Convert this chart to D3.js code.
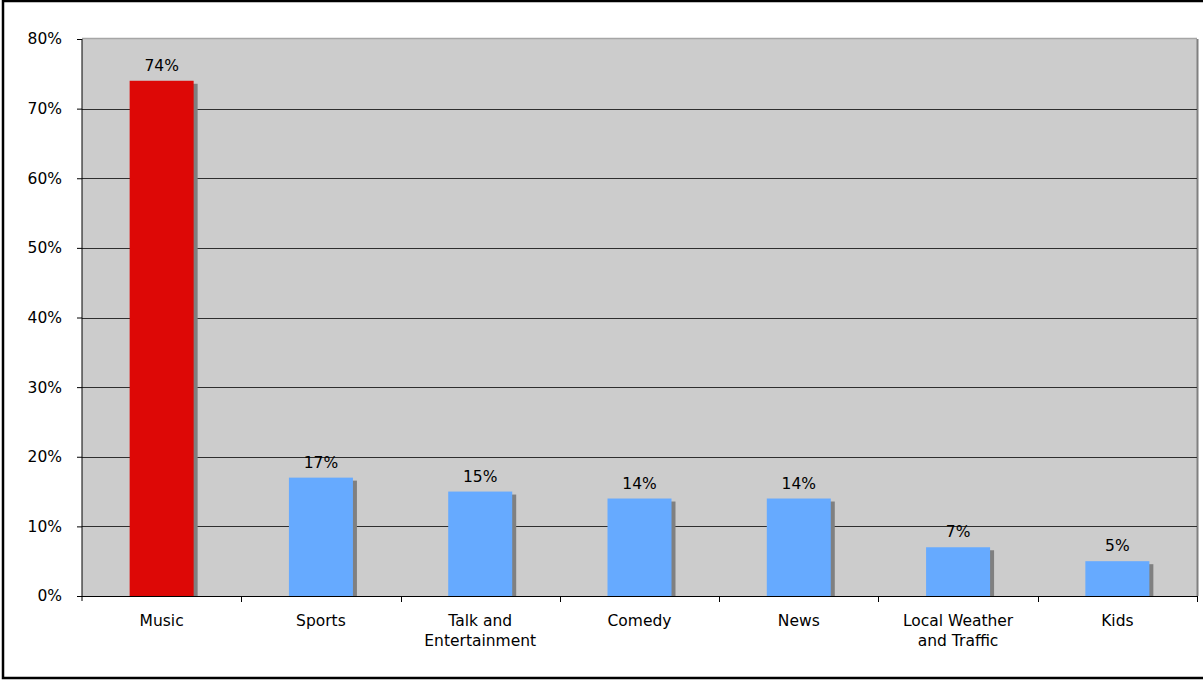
<!DOCTYPE html>
<html>
<head>
<meta charset="utf-8">
<script src="https://cdn.jsdelivr.net/npm/d3@7"></script>
<style>
  html, body { margin: 0; padding: 0; background: #fff; }
  svg { display: block; }
  text { font-family: "DejaVu Sans", Verdana, sans-serif; fill: #000; }
</style>
</head>
<body>
<svg id="chart" width="1203" height="680"></svg>
<script>
// Share of listeners by programming type
const categories = ["Music", "Sports", "Talk and\nEntertainment", "Comedy", "News", "Local Weather\nand Traffic", "Kids"];
const values = [0.74, 0.17, 0.15, 0.14, 0.14, 0.07, 0.05];
const barColors = ["#dd0806", "#66aaff", "#66aaff", "#66aaff", "#66aaff", "#66aaff", "#66aaff"];
const yTicks = [0, 0.1, 0.2, 0.3, 0.4, 0.5, 0.6, 0.7, 0.8];

const svg = d3.select("#chart");
const W = 1203, H = 680;
const plot = { left: 82, right: 1197, top: 39, bottom: 596 };
const fontSize = "15.5px";

// Outer chart frame
svg.append("rect")
  .attr("x", 3).attr("y", 1)
  .attr("width", W + 10).attr("height", 677)
  .attr("fill", "#fff").attr("stroke", "#000").attr("stroke-width", 2.5);

const x = d3.scaleBand()
  .domain(d3.range(categories.length))
  .range([plot.left, plot.right])
  .paddingInner(0).paddingOuter(0);

const y = d3.scaleLinear().domain([0, 0.8]).range([plot.bottom, plot.top]);

// Plot area background
svg.append("rect")
  .attr("x", plot.left).attr("y", plot.top)
  .attr("width", plot.right - plot.left).attr("height", plot.bottom - plot.top)
  .attr("fill", "#cccccc");

// Plot area border: light top edge, darker right edge
svg.append("line")
  .attr("x1", plot.left).attr("x2", plot.right)
  .attr("y1", plot.top - 0.5).attr("y2", plot.top - 0.5)
  .attr("stroke", "#a6a6a6").attr("stroke-width", 1.5);
svg.append("line")
  .attr("x1", plot.right + 0.5).attr("x2", plot.right + 0.5)
  .attr("y1", plot.top).attr("y2", plot.bottom)
  .attr("stroke", "#808080").attr("stroke-width", 2);

// Horizontal gridlines
svg.append("g")
  .selectAll("line")
  .data(yTicks.filter(t => t > 0 && t < 0.8))
  .join("line")
  .attr("x1", plot.left).attr("x2", plot.right)
  .attr("y1", d => Math.round(y(d)) + 0.5).attr("y2", d => Math.round(y(d)) + 0.5)
  .attr("stroke", "#2e2e2e").attr("stroke-width", 1);

const barW = 64;
const bx = i => x(i) + (x.bandwidth() - barW) / 2;

// Bar shadows
svg.append("g")
  .selectAll("rect")
  .data(values)
  .join("rect")
  .attr("x", (d, i) => bx(i) + 4)
  .attr("y", d => y(d) + 3)
  .attr("width", barW)
  .attr("height", d => plot.bottom - y(d) - 3)
  .attr("fill", "#808080");

// Bars
svg.append("g")
  .selectAll("rect")
  .data(values)
  .join("rect")
  .attr("x", (d, i) => bx(i))
  .attr("y", d => y(d))
  .attr("width", barW)
  .attr("height", d => plot.bottom - y(d))
  .attr("fill", (d, i) => barColors[i]);

// Value labels
svg.append("g")
  .selectAll("text")
  .data(values)
  .join("text")
  .attr("x", (d, i) => bx(i) + barW / 2)
  .attr("y", d => y(d) - 10)
  .attr("text-anchor", "middle")
  .style("font-size", fontSize)
  .text(d => d3.format(".0%")(d));

// Y axis
const yAxis = svg.append("g")
  .attr("transform", `translate(${plot.left},0)`)
  .call(d3.axisLeft(y).tickValues(yTicks).tickFormat(d3.format(".0%")).tickSize(5).tickPadding(15));
yAxis.select(".domain").attr("stroke", "#000").attr("d", `M0,${plot.top}V${plot.bottom + 5}`);
yAxis.selectAll(".tick line").attr("stroke", "#000");
yAxis.selectAll(".tick text")
  .style("font-size", fontSize)
  .style("font-family", "'DejaVu Sans', Verdana, sans-serif")
  .attr("fill", "#000");

// X axis: tick marks at category boundaries
const xAxisG = svg.append("g");
xAxisG.append("line")
  .attr("x1", plot.left - 5).attr("x2", plot.right)
  .attr("y1", plot.bottom + 0.5).attr("y2", plot.bottom + 0.5)
  .attr("stroke", "#000");
xAxisG.selectAll("line.tk")
  .data(d3.range(1, categories.length + 1))
  .join("line")
  .attr("class", "tk")
  .attr("x1", i => Math.round(x(i - 1) + x.bandwidth()) + 0.5)
  .attr("x2", i => Math.round(x(i - 1) + x.bandwidth()) + 0.5)
  .attr("y1", plot.bottom).attr("y2", plot.bottom + 6)
  .attr("stroke", "#000");

// Category labels (multi-line)
const catLabels = svg.append("g")
  .selectAll("text")
  .data(categories)
  .join("text")
  .attr("text-anchor", "middle")
  .attr("x", (d, i) => x(i) + x.bandwidth() / 2)
  .attr("y", 626)
  .style("font-size", fontSize);
catLabels.each(function (d) {
  const t = d3.select(this);
  d.split("\n").forEach((line, k) => {
    t.append("tspan")
      .attr("x", t.attr("x"))
      .attr("dy", k === 0 ? 0 : 20)
      .text(line);
  });
});
</script>
</body>
</html>
